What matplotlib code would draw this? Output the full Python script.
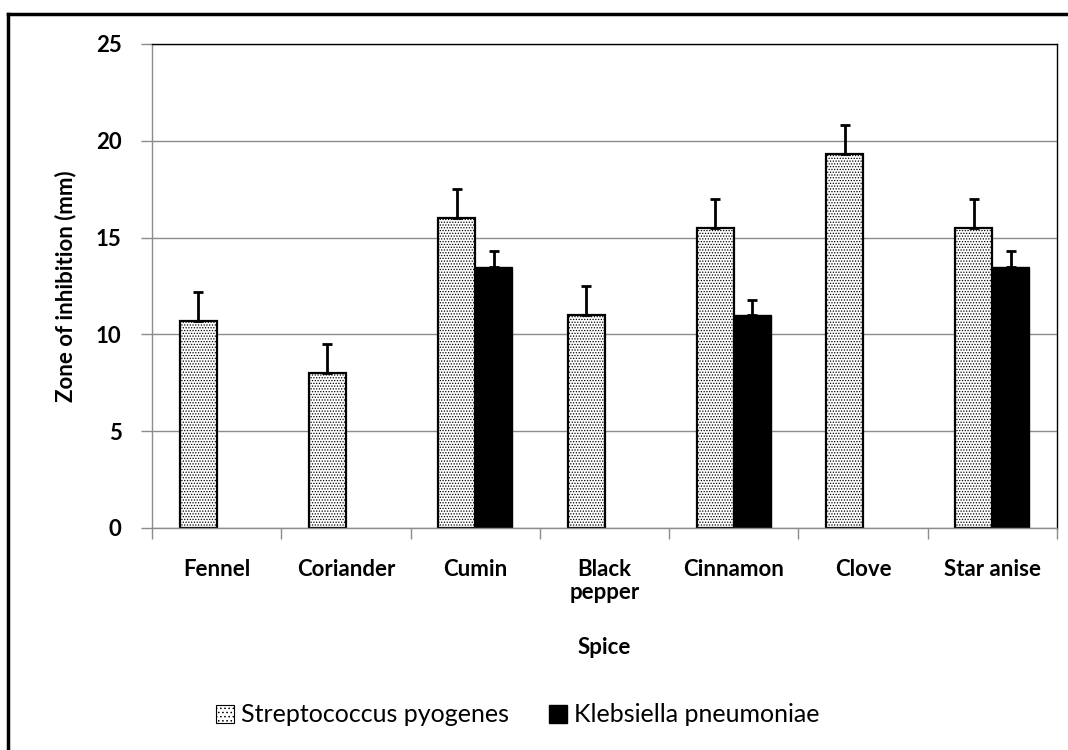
import matplotlib
matplotlib.use("Agg")
import matplotlib.pyplot as plt
import numpy as np
from matplotlib.lines import Line2D
from matplotlib.patches import Patch

plt.rcParams['font.family'] = ['Lato', 'DejaVu Sans']
plt.rcParams['hatch.linewidth'] = 0.6

spices = ["Fennel", "Coriander", "Cumin", "Black\npepper", "Cinnamon", "Clove", "Star anise"]
strep_vals = [10.67, 8.0, 16.0, 11.0, 15.5, 19.3, 15.5]
strep_err = [1.5, 1.5, 1.5, 1.5, 1.5, 1.5, 1.5]
kleb_vals = [0, 0, 13.5, 0, 11.0, 0, 13.5]
kleb_err = [0, 0, 0.8, 0, 0.8, 0, 0.8]
series_names = ["Streptococcus pyogenes", "Klebsiella pneumoniae"]
yticks = [0, 5, 10, 15, 20, 25]

fig = plt.figure(figsize=(10.68, 7.5), dpi=100)
ax = fig.add_axes([152/1068, 1-528/750, (1057-152)/1068, (528-44)/750])

x = np.arange(len(spices))
w = 0.286
ax.set_axisbelow(True)
for i, (v, e) in enumerate(zip(strep_vals, strep_err)):
    ax.bar(x[i] - w/2, v, w, facecolor='white', edgecolor='black', hatch='......', linewidth=1.6, zorder=2)
    ax.errorbar(x[i] - w/2, v, yerr=[[0], [e]], fmt='none', ecolor='black', elinewidth=2, capsize=3.6, capthick=2, zorder=3)
for i, (v, e) in enumerate(zip(kleb_vals, kleb_err)):
    if v > 0:
        ax.bar(x[i] + w/2, v, w, facecolor='black', edgecolor='black', linewidth=1, zorder=2)
        ax.errorbar(x[i] + w/2, v, yerr=[[0], [e]], fmt='none', ecolor='black', elinewidth=2, capsize=3.6, capthick=2, zorder=3)

ax.set_xlim(-0.5, len(spices) - 0.5)
ax.set_ylim(0, 25)
ax.set_yticks(yticks)
ax.set_yticklabels([str(t) for t in yticks], fontsize=16, fontweight='bold')
ax.yaxis.grid(True, color='#8c8c8c', linewidth=1)
ax.set_xticks(x)
ax.set_xticklabels(spices, fontsize=16, fontweight='bold', va='top', linespacing=1.15)
ax.set_xticks(np.arange(-0.5, len(spices)), minor=True)
ax.tick_params(axis='x', which='major', length=0, pad=22)
ax.tick_params(axis='x', which='minor', length=8, color='#8c8c8c', width=1)
ax.tick_params(axis='y', length=8, color='#8c8c8c', width=1, pad=14)

for s in ['left', 'bottom']:
    ax.spines[s].set_color('#8c8c8c')
    ax.spines[s].set_linewidth(1)
for s in ['top', 'right']:
    ax.spines[s].set_color('black')
    ax.spines[s].set_linewidth(1)

ax.set_ylabel("Zone of inhibition (mm)", fontsize=16, fontweight='bold', labelpad=14)
fig.text(604/1068, 1-648/750, "Spice", fontsize=16, fontweight='bold', ha='center', va='center')

handles = [Patch(facecolor='white', edgecolor='black', hatch='....', linewidth=0.8),
           Patch(facecolor='black', edgecolor='black')]
fig.legend(handles, series_names, loc='center', bbox_to_anchor=(518/1068, 1-715/750), ncol=2,
           frameon=False, fontsize=18, handlelength=0.7, handleheight=0.7, handletextpad=0.3,
           columnspacing=1.6)

fig.add_artist(Line2D([8/1068, 8/1068], [0, 1-14/750], color='black', linewidth=2.5, transform=fig.transFigure))
fig.add_artist(Line2D([8/1068, 1], [1-14/750, 1-14/750], color='black', linewidth=2.5, transform=fig.transFigure))

fig.savefig("out.png", dpi=100)
